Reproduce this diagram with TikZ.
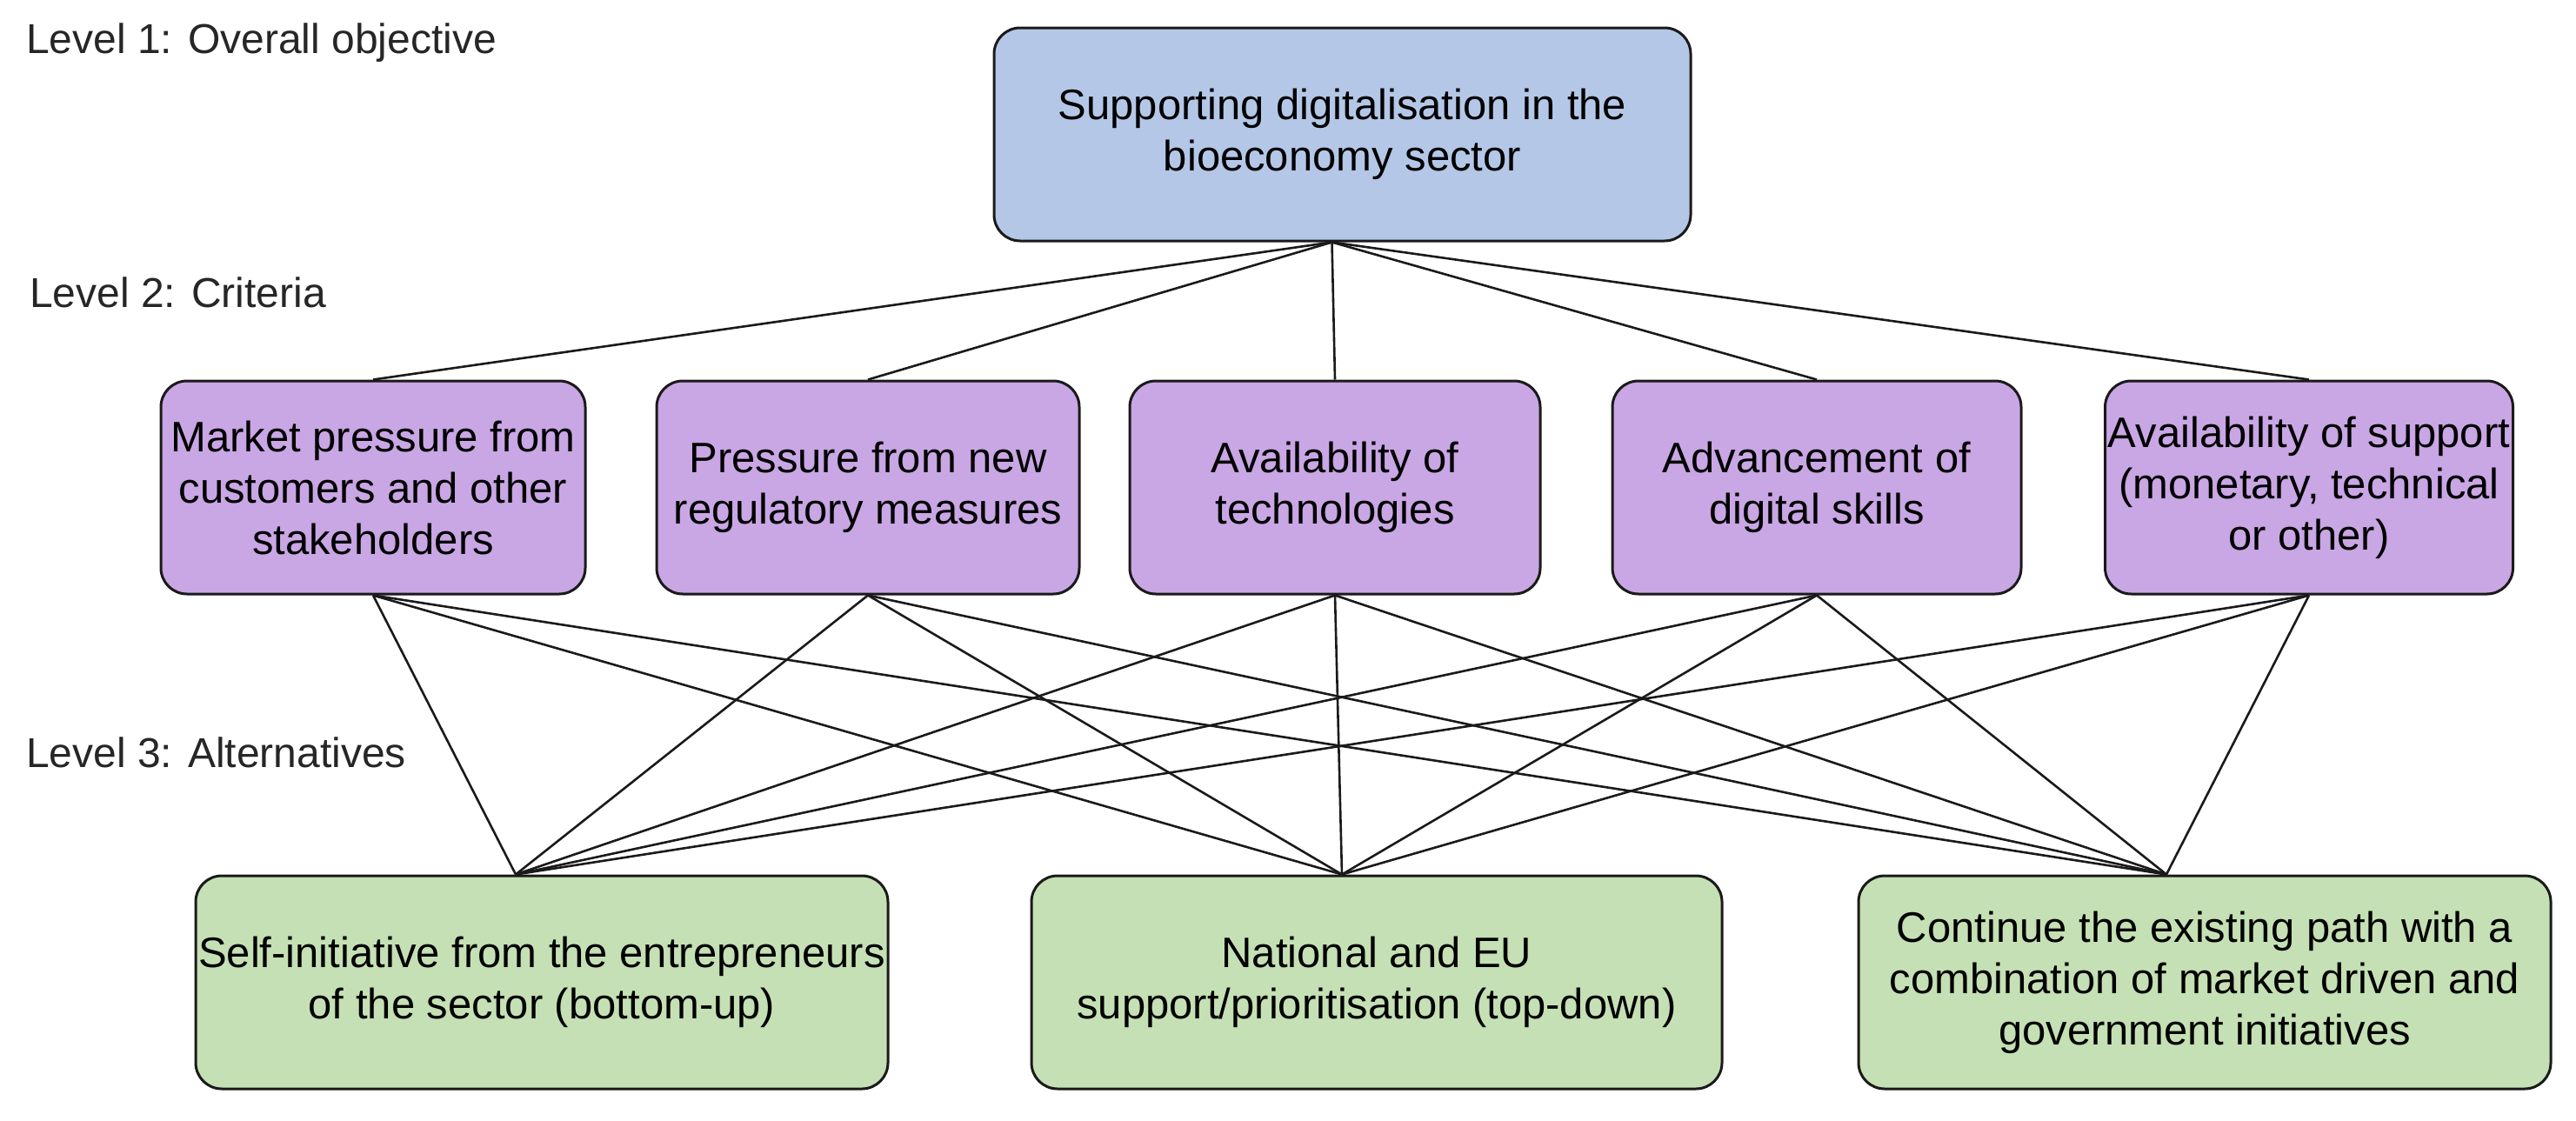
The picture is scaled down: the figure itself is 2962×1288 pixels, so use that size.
\documentclass[tikz,border=0pt]{standalone}
\usepackage{fontspec}
\setmainfont{Liberation Sans}
\definecolor{topfill}{HTML}{B4C7E7}
\definecolor{critfill}{HTML}{C9A6E4}
\definecolor{altfill}{HTML}{C5E0B4}
\definecolor{edgecol}{HTML}{1A1A1A}
\begin{document}
\begin{tikzpicture}[x=1pt,y=-1pt,
  box/.style={draw=edgecol, line width=3pt, rounded corners=30pt, align=center,
    inner sep=0pt, minimum height=245pt, font=\fontsize{49}{59}\selectfont},
  topbox/.style={box, fill=topfill},
  critbox/.style={box, fill=critfill},
  altbox/.style={box, fill=altfill},
  lvl/.style={anchor=west, inner sep=0pt, font=\fontsize{48}{58}\selectfont, text=black!85},
  link/.style={draw=edgecol, line width=2.6pt}]
\useasboundingbox (0,0) rectangle (2962,1288);

% level labels
\node[lvl] (l1) at (30,49) {Level 1: Overall objective};
\node[lvl] (l2) at (34,336) {Level 2: Criteria};
\node[lvl] (l3) at (30,865) {Level 3: Alternatives};

% nodes
\node[topbox, minimum width=801pt] (top) at (1543.5,154.5) {Supporting digitalisation in the\\bioeconomy sector};

\node[critbox, minimum width=488pt] (c1) at (429,560.5) {Market pressure from\\customers and other\\stakeholders};
\node[critbox, minimum width=486pt] (c2) at (998,560.5) {Pressure from new\\regulatory measures};
\node[critbox, minimum width=472pt] (c3) at (1535,560.5) {Availability of\\technologies};
\node[critbox, minimum width=470pt] (c4) at (2089,560.5) {Advancement of\\digital skills};
\node[critbox, minimum width=469pt] (c5) at (2655,560.5) {Availability of support\\(monetary, technical\\or other)};

\node[altbox, minimum width=796pt] (a1) at (623,1129.5) {Self-initiative from the entrepreneurs\\of the sector (bottom-up)};
\node[altbox, minimum width=794pt] (a2) at (1583,1129.5) {National and EU\\support/prioritisation (top-down)};
\node[altbox, minimum width=796pt] (a3) at (2535,1129.5) {Continue the existing path with a\\combination of market driven and\\government initiatives};

\coordinate (tb) at ([xshift=-12pt]top.south);
\coordinate (a1t) at ([xshift=-30pt]a1.north);
\coordinate (a2t) at ([xshift=-40pt]a2.north);
\coordinate (a3t) at ([xshift=-44pt]a3.north);

\foreach \c in {c1,c2,c3,c4,c5}{
  \draw[link] (tb) -- (\c.north);
  \foreach \a in {a1t,a2t,a3t}{
    \draw[link] (\c.south) -- (\a);
  }
}
\end{tikzpicture}
\end{document}
